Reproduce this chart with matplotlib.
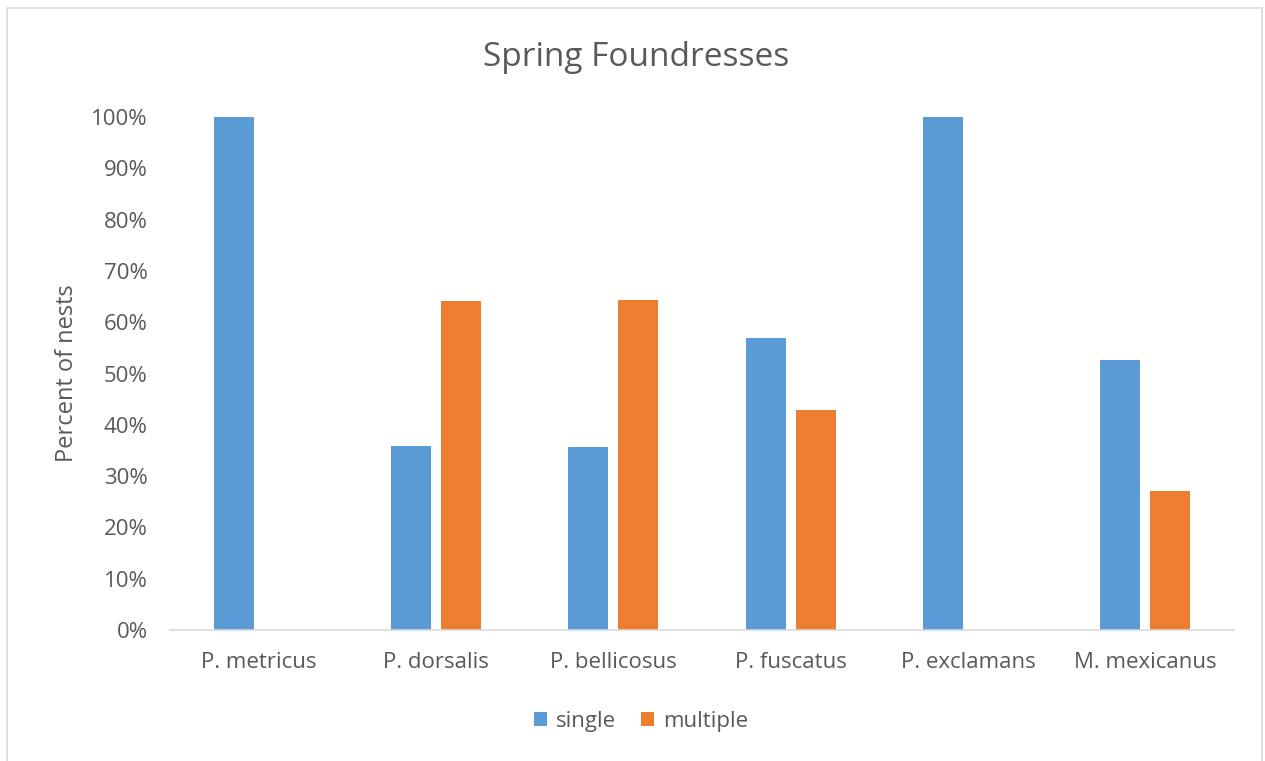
import matplotlib
matplotlib.use("Agg")
import matplotlib.pyplot as plt
import numpy as np
from matplotlib.patches import Rectangle

species = ["P. metricus", "P. dorsalis", "P. bellicosus", "P. fuscatus", "P. exclamans", "M. mexicanus"]
single = [1.00, 0.359, 0.357, 0.569, 1.00, 0.526]
multiple = [0.0, 0.641, 0.643, 0.429, 0.0, 0.271]
yticks = np.arange(0, 1.01, 0.1)
ytick_labels = [f"{int(round(t * 100))}%" for t in yticks]

BLUE = "#5b9bd5"
ORANGE = "#ed7d31"
GREY = "#595959"

plt.rcParams["font.family"] = ["Open Sans", "DejaVu Sans"]

W, H = 1265, 761
fig = plt.figure(figsize=(W / 100, H / 100), dpi=100)
ax = fig.add_axes([170 / W, 1 - 630 / H, (1234 - 170) / W, (630 - 117) / H])

# frame around the chart area
fig.patches.append(Rectangle((7 / W, -0.01), (1262 - 7) / W, 1 - 8 / H + 0.01,
                             transform=fig.transFigure, fill=False,
                             edgecolor="#d9d9d9", linewidth=1.2))

x = np.arange(len(species))
bw = 0.226
gap = 0.056
off = (bw + gap) / 2
ax.bar(x - off, single, width=bw, color=BLUE, label="single")
ax.bar(x + off, multiple, width=bw, color=ORANGE, label="multiple")

ax.set_xlim(-0.5, len(species) - 0.5)
ax.set_ylim(0, 1)
ax.set_yticks(yticks)
ax.set_yticklabels(ytick_labels)
ax.set_xticks(x)
ax.set_xticklabels(species)
ax.tick_params(axis="both", length=0, colors=GREY, labelsize=16)
ax.tick_params(axis="y", pad=16)
ax.tick_params(axis="x", pad=16)

for side in ["top", "right", "left"]:
    ax.spines[side].set_visible(False)
ax.spines["bottom"].set_color("#d9d9d9")
ax.spines["bottom"].set_linewidth(1.2)

ax.set_ylabel("Percent of nests", color=GREY, fontsize=17, labelpad=9)
fig.text(636 / W, 1 - 58 / H, "Spring Foundresses", ha="center", va="center",
         color=GREY, fontsize=24)

fig.legend(loc="center", bbox_to_anchor=(641 / W, 1 - 721 / H), ncol=2,
           frameon=False, fontsize=16, labelcolor=GREY, handlelength=0.6,
           handleheight=0.6, handletextpad=0.4, columnspacing=1.1)

fig.savefig("out.png", dpi=100, facecolor="white")
